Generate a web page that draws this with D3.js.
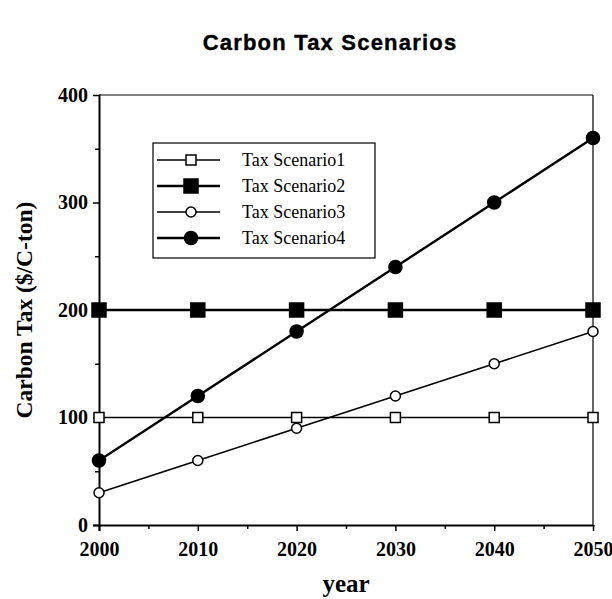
<!DOCTYPE html>
<html><head><meta charset="utf-8">
<script src="https://cdn.jsdelivr.net/npm/d3@7"></script>
<style>body{margin:0;background:#fff}</style>
</head><body>
<script>
const years = [2000, 2010, 2020, 2030, 2040, 2050];
const scenario1 = [100, 100, 100, 100, 100, 100];
const scenario2 = [200, 200, 200, 200, 200, 200];
const scenario3 = [30, 60, 90, 120, 150, 180];
const scenario4 = [60, 120, 180, 240, 300, 360];
const seriesNames = ["Tax Scenario1", "Tax Scenario2", "Tax Scenario3", "Tax Scenario4"];
const xTicks = [2000, 2010, 2020, 2030, 2040, 2050];
const yTicks = [0, 100, 200, 300, 400];

const W = 612, H = 599;
const m = {l: 99, r: 19, t: 95, b: 74};
const svg = d3.select("body").append("svg").attr("width", W).attr("height", H);
const x = d3.scaleLinear().domain([2000, 2050]).range([m.l, W - m.r]);
const y = d3.scaleLinear().domain([0, 400]).range([H - m.b, m.t]);

// title
svg.append("text").attr("x", 330).attr("y", 50).attr("text-anchor", "middle")
  .style("font-family", "Liberation Sans, Arial, sans-serif").style("font-weight", "bold").style("font-size", "22px")
  .style("letter-spacing", "1.2px").style("stroke", "#000").style("stroke-width", "0.4px")
  .text("Carbon Tax Scenarios");

// frame
svg.append("line").attr("x1", x(2000)).attr("x2", x(2050)).attr("y1", y(400)).attr("y2", y(400)).attr("stroke", "#000").attr("stroke-width", 1.2);
svg.append("line").attr("x1", x(2050)).attr("x2", x(2050)).attr("y1", y(400)).attr("y2", y(0)).attr("stroke", "#000").attr("stroke-width", 1.2);

const serif = "Liberation Serif, Times New Roman, serif";
// axes
svg.append("g").attr("transform", `translate(0,${y(0)})`)
  .call(d3.axisBottom(x).tickValues(xTicks).tickFormat(d3.format("d")).tickSize(6).tickPadding(11));
svg.append("g").attr("transform", `translate(0,${y(0)})`)
  .call(d3.axisBottom(x).tickValues(d3.range(2005, 2050, 10)).tickFormat("").tickSize(4))
  .call(g => g.select(".domain").remove());
svg.append("g").attr("transform", `translate(${x(2000)},0)`)
  .call(d3.axisLeft(y).tickValues(yTicks).tickSize(6).tickPadding(5));
svg.append("g").attr("transform", `translate(${x(2000)},0)`)
  .call(d3.axisLeft(y).tickValues([50, 150, 250, 350]).tickFormat("").tickSize(4))
  .call(g => g.select(".domain").remove());
svg.selectAll(".domain").attr("stroke-width", 2).attr("d", function(){ return d3.select(this).attr("d").replace(/V6|V-6|H-6|H6/g, m=>m[0]+"0"); });
svg.selectAll(".tick line").attr("stroke-width", 1.5);
svg.selectAll(".tick text").style("font-family", serif).style("font-weight", "bold").style("font-size", "20px").attr("fill", "#000");

svg.append("text").attr("x", 346).attr("y", 592).attr("text-anchor", "middle")
  .style("font-family", serif).style("font-weight", "bold").style("font-size", "25px").text("year");
svg.append("text").attr("transform", "translate(32,310) rotate(-90)").attr("text-anchor", "middle")
  .style("font-family", serif).style("font-weight", "bold").style("font-size", "23.5px").text("Carbon Tax ($/C-ton)");

const series = [
  {vals: scenario1, shape: "square", fill: "#fff", size: 10, lw: 1.3},
  {vals: scenario2, shape: "square", fill: "#000", size: 14, lw: 2.4},
  {vals: scenario3, shape: "circle", fill: "#fff", size: 5, lw: 1.6},
  {vals: scenario4, shape: "circle", fill: "#000", size: 6.5, lw: 2.4}
];
const line = d3.line().x((d, i) => x(years[i])).y(d => y(d));

function marker(g, s, cx, cy) {
  if (s.shape === "square") {
    g.append("rect").attr("x", cx - s.size / 2).attr("y", cy - s.size / 2).attr("width", s.size).attr("height", s.size)
      .attr("fill", s.fill).attr("stroke", "#000").attr("stroke-width", 1.5);
  } else {
    g.append("circle").attr("cx", cx).attr("cy", cy).attr("r", s.size).attr("fill", s.fill).attr("stroke", "#000").attr("stroke-width", 1.5);
  }
}

series.forEach(s => {
  svg.append("path").datum(s.vals).attr("d", line).attr("fill", "none").attr("stroke", "#000").attr("stroke-width", s.lw);
});
series.forEach(s => {
  const g = svg.append("g");
  s.vals.forEach((v, i) => marker(g, s, x(years[i]), y(v)));
});

// legend
const lg = svg.append("g");
lg.append("rect").attr("x", 153).attr("y", 143).attr("width", 222).attr("height", 115)
  .attr("fill", "#fff").attr("stroke", "#000").attr("stroke-width", 1.2);
series.forEach((s, i) => {
  const ly = 160 + i * 26;
  lg.append("line").attr("x1", 157).attr("x2", 220).attr("y1", ly).attr("y2", ly).attr("stroke", "#000").attr("stroke-width", s.lw);
  marker(lg, s, 191, ly);
  lg.append("text").attr("x", 242).attr("y", ly + 6).style("font-family", serif).style("font-size", "18px").text(seriesNames[i]);
});
</script>
</body></html>
